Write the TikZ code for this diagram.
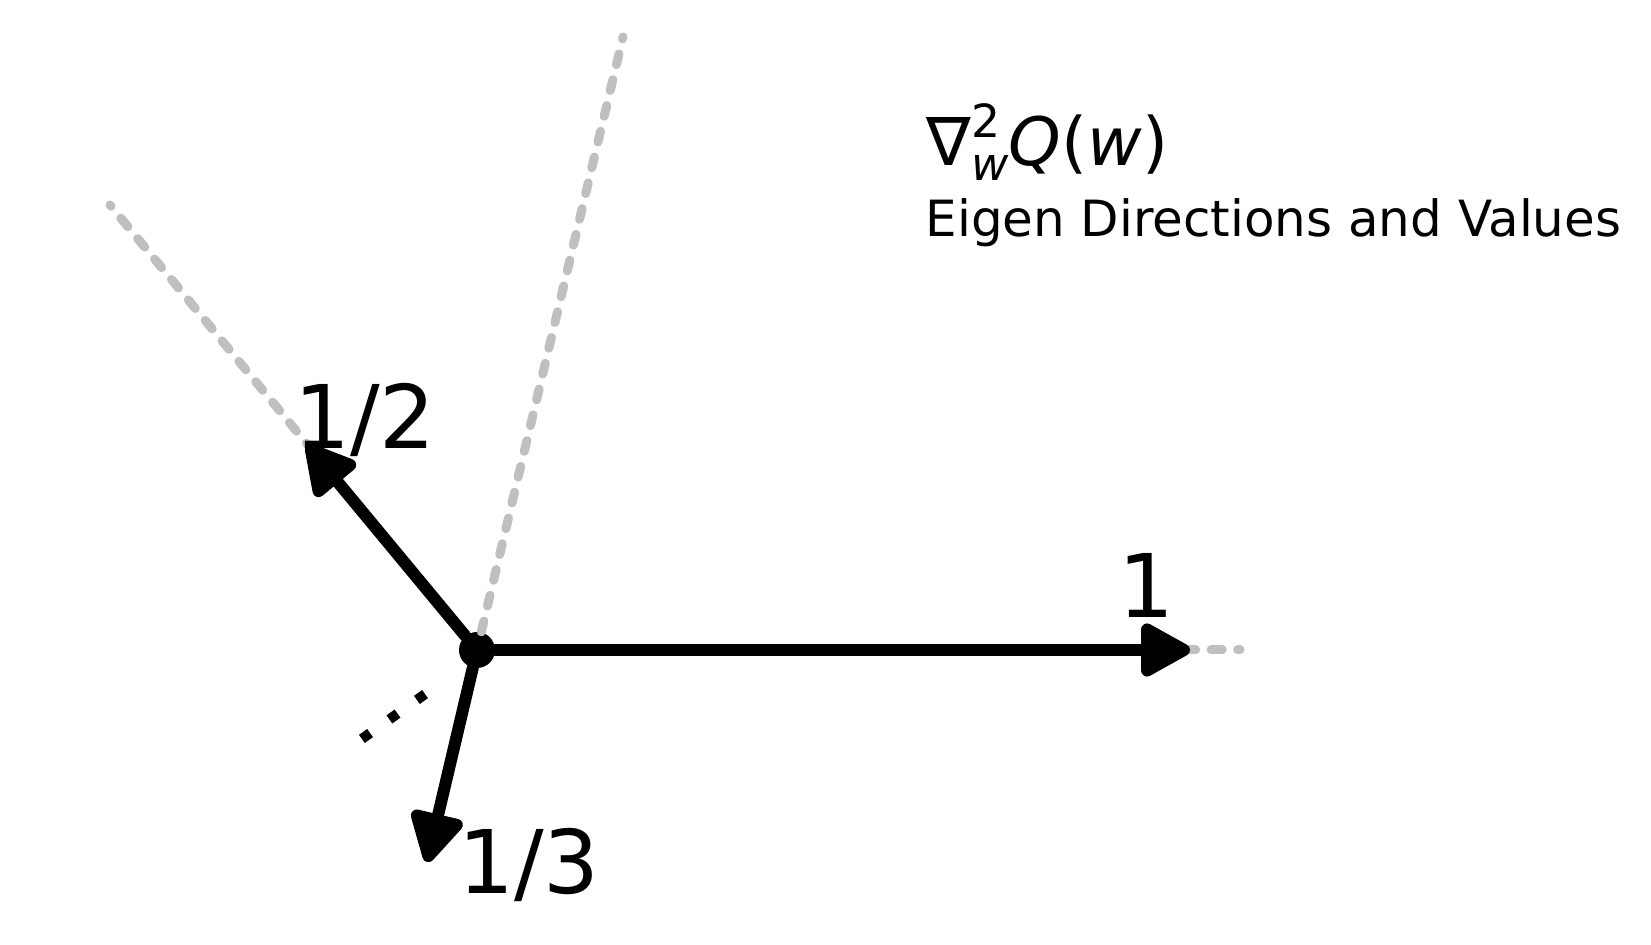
\documentclass[tikz,border=0pt]{standalone}
\usepackage{fontspec}
\setmainfont{DejaVu Sans}
\usetikzlibrary{arrows.meta}
\definecolor{dirgray}{HTML}{BFBFBF}
\newcommand{\hessian}{∇\rlap{\raisebox{0.43em}{\fontsize{13}{13}\selectfont 2}}\raisebox{-0.22em}{\fontsize{13}{13}\selectfont\itshape w}\textit{Q}(\textit{w})}

\begin{document}
\begin{tikzpicture}[
  x=1cm, y=1cm,
  eigarrow/.style={-{Triangle[length=5.6mm, width=5.8mm, round]}, line width=1.2mm, line cap=round},
  dirline/.style={dirgray, line width=0.9mm, line cap=round, dash pattern=on 1.1mm off 1.55mm},
  eigval/.style={font=\fontsize{25}{25}\selectfont, inner sep=0pt},
  origin/.style={circle, fill=black, inner sep=0pt, minimum size=3.6mm},
]
\useasboundingbox (-4.77,-2.95) rectangle (11.74,6.50);

% eigen directions
\node[origin] (o) at (0,0) {};
\coordinate (t1) at (7.13,0);
\coordinate (t2) at (-1.70,2.05);
\coordinate (t3) at (-0.50,-2.12);
\coordinate (g1) at (7.63,0);
\coordinate (g2) at (-3.67,4.45);
\coordinate (g3) at (1.46,6.13);
\coordinate (d1) at (-1.151,-0.889);
\coordinate (d2) at (-0.519,-0.441);

\draw[dirline] (o) -- (g1);
\draw[dirline] (o) -- (g2);
\draw[dirline] (o) -- (g3);

\draw[eigarrow] (o) -- (t1);
\draw[eigarrow] (o) -- (t2);
\draw[eigarrow] (o) -- (t3);
\draw[line width=1mm, dash pattern=on 1mm off 2.37mm] (d1) -- (d2);

% eigenvalues
\node[eigval] (l1) at (6.69,0.65) {1};
\node[eigval] (l2) at (-1.12,2.30) {1/2};
\node[eigval] (l3) at (0.52,-2.15) {1/3};

% title
\node[anchor=base west, inner sep=0pt, font=\fontsize{19}{19}\selectfont] (hess) at (4.49,4.84) {\hessian};
\node[anchor=base west, inner sep=0pt, font=\fontsize{14.2}{14.2}\selectfont] (ttl) at (4.48,4.13) {Eigen Directions and Values};
\end{tikzpicture}
\end{document}
